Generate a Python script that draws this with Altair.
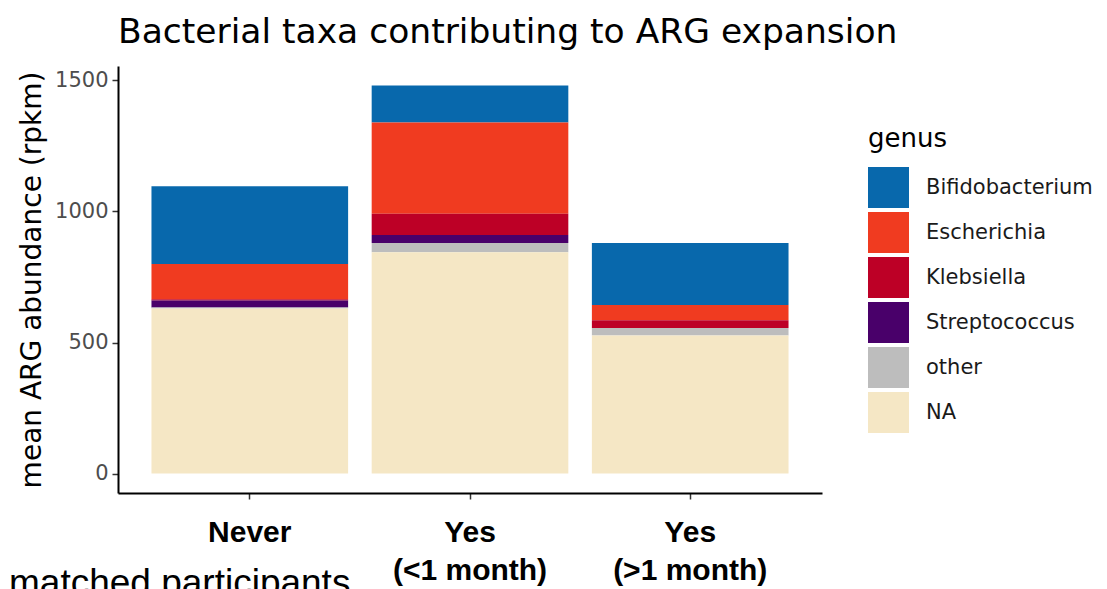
import altair as alt
import pandas as pd

groups = ["Never", "Yes (<1 month)", "Yes (>1 month)"]
genera = ["Bifidobacterium", "Escherichia", "Klebsiella", "Streptococcus", "other", "NA"]
colors = ["#0868ac", "#f03b20", "#bd0026", "#49006a", "#bdbdbd", "#f5e7c5"]

bifidobacterium = [296, 142, 237]
escherichia = [135, 348, 58]
klebsiella = [5, 81, 30]
streptococcus = [26, 30, 0]
other = [4, 36, 28]
na_genus = [630, 844, 527]

series = [bifidobacterium, escherichia, klebsiella, streptococcus, other, na_genus]
rows = []
for gi, (g, vals) in enumerate(zip(genera, series)):
    for grp, v in zip(groups, vals):
        rows.append({"group": grp, "genus": g, "value": v, "stack_order": len(genera) - gi})
df = pd.DataFrame(rows)

FONT = "DejaVu Sans"

label_expr = ("indexof(datum.label, ' ') > 0 ? "
              "[substring(datum.label, 0, indexof(datum.label, ' ')), "
              "substring(datum.label, indexof(datum.label, ' ') + 1)] : datum.label")

bars = alt.Chart(df).mark_bar(strokeWidth=0).encode(
    x=alt.X("group:N", sort=groups,
            scale=alt.Scale(paddingInner=0.107, paddingOuter=0.152),
            axis=alt.Axis(title=None, labelAngle=0, labelExpr=label_expr,
                          labelFont="Liberation Sans", labelFontWeight="bold",
                          labelFontSize=30, labelColor="black", labelBaseline="top",
                          labelPadding=18, labelLineHeight=38,
                          tickSize=6, tickColor="#333333", tickWidth=1.5,
                          domainColor="black", domainWidth=2)),
    y=alt.Y("value:Q", stack="zero",
            scale=alt.Scale(domain=[-74, 1555], nice=False, zero=False),
            axis=alt.Axis(title="mean ARG abundance (rpkm)", values=[0, 500, 1000, 1500],
                          format="d", grid=False, titleFont=FONT, titleFontSize=28,
                          titleFontWeight="normal", titleColor="black", titlePadding=8,
                          labelFont=FONT, labelFontSize=21, labelColor="#4d4d4d",
                          labelPadding=4, tickSize=6, tickColor="#333333", tickWidth=1.5,
                          domainColor="black", domainWidth=2)),
    color=alt.Color("genus:N", scale=alt.Scale(domain=genera, range=colors),
                    legend=alt.Legend(title="genus", orient="none", legendX=750, legendY=60,
                                      titleFont=FONT, titleFontSize=26, titleFontWeight="normal",
                                      titleColor="black", titlePadding=15,
                                      labelFont=FONT, labelFontSize=21, labelColor="#1a1a1a",
                                      labelOffset=17, labelLimit=300,
                                      symbolType="square", symbolSize=1681,
                                      symbolStrokeWidth=0, symbolOpacity=1, rowPadding=4)),
    order=alt.Order("stack_order:Q", sort="ascending"),
)

caption = alt.Chart(pd.DataFrame({"t": ["matched participants"]})).mark_text(
    align="left", baseline="alphabetic", font="Liberation Sans", fontSize=37, color="black"
).encode(text="t:N", x=alt.value(-109), y=alt.value(529))

chart = alt.layer(bars, caption).properties(
    width=704, height=427,
    title=alt.TitleParams("Bacterial taxa contributing to ARG expansion", anchor="start",
                          frame="group", font=FONT, fontSize=34.5, fontWeight="normal",
                          color="black", offset=16),
    autosize=alt.AutoSizeParams(type="none"),
    padding={"left": 110, "top": 58, "right": 277, "bottom": 100},
).configure_view(stroke=None)

chart.save("out.html", embed_options={"renderer": "svg", "actions": False})
